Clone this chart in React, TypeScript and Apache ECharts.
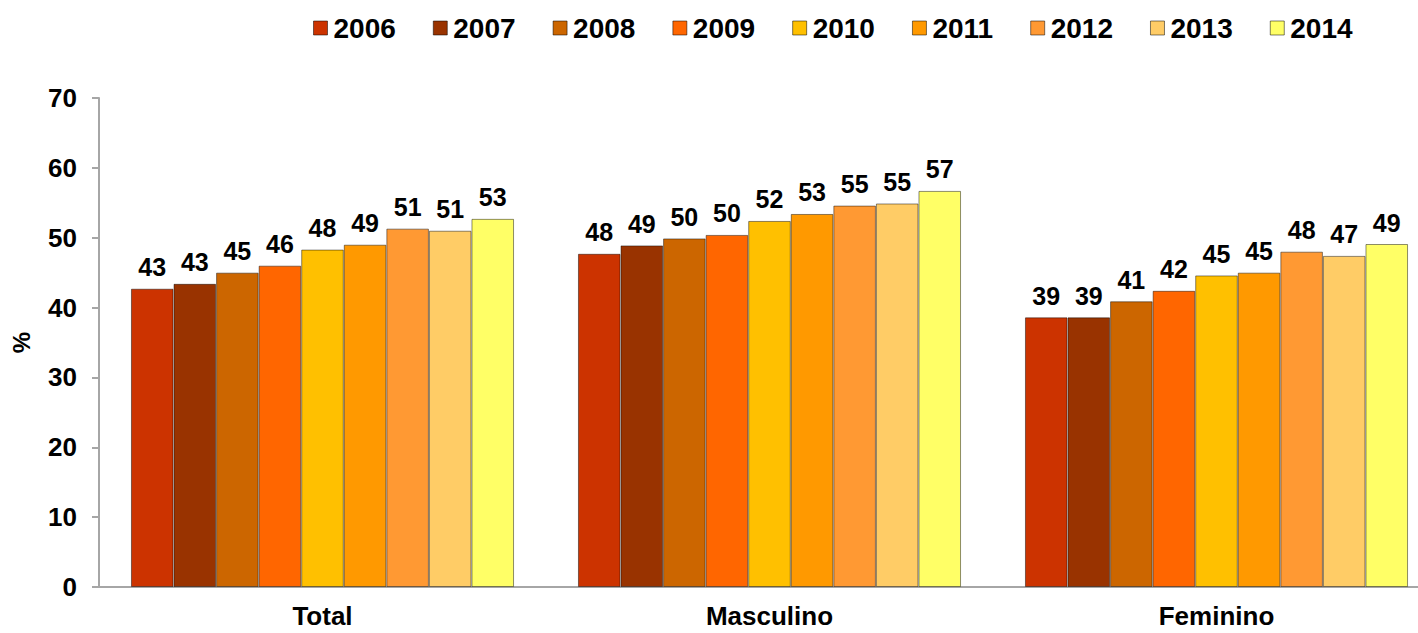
import React, { useEffect, useRef } from "react";
import * as echarts from "echarts";

const categories = ["Total", "Masculino", "Feminino"];
const years = ["2006", "2007", "2008", "2009", "2010", "2011", "2012", "2013", "2014"];
const colors = ["#CC3300", "#993300", "#CC6600", "#FF6600", "#FFC000", "#FF9900", "#FF9933", "#FFCC66", "#FFFF66"];

const v2006 = [42.7, 47.7, 38.6];
const v2007 = [43.4, 48.9, 38.6];
const v2008 = [45.0, 49.9, 40.9];
const v2009 = [46.0, 50.4, 42.4];
const v2010 = [48.3, 52.4, 44.6];
const v2011 = [49.0, 53.4, 45.0];
const v2012 = [51.3, 54.6, 48.0];
const v2013 = [51.0, 54.9, 47.4];
const v2014 = [52.7, 56.7, 49.1];
const seriesValues = [v2006, v2007, v2008, v2009, v2010, v2011, v2012, v2013, v2014];

const yTicks = { min: 0, max: 70, interval: 10 };

const FONT = "'Liberation Sans', Arial, sans-serif";

export default function App() {
  const ref = useRef<HTMLDivElement>(null);
  useEffect(() => {
    if (!ref.current) return;
    const chart = echarts.init(ref.current, undefined, { renderer: "svg" });
    chart.setOption({
      animation: false,
      backgroundColor: "#ffffff",
      legend: {
        top: 9,
        left: 308,
        itemWidth: 14,
        itemHeight: 14,
        itemGap: 37,
        icon: "rect",
        data: years,
        textStyle: {
          fontFamily: FONT,
          fontWeight: "bold",
          fontSize: 28,
          color: "#000",
          padding: [0, 0, 0, 1],
        },
        itemStyle: { borderColor: "rgba(0,0,0,0.5)", borderWidth: 1 },
      },
      grid: { left: 99, top: 98, bottom: 46, right: 0, containLabel: false },
      xAxis: {
        type: "category",
        data: categories,
        axisLine: { lineStyle: { color: "#A6A6A6", width: 2 } },
        axisTick: { show: false },
        axisLabel: {
          margin: 16,
          fontFamily: FONT,
          fontWeight: "bold",
          fontSize: 26,
          color: "#000",
        },
      },
      yAxis: {
        type: "value",
        min: yTicks.min,
        max: yTicks.max,
        interval: yTicks.interval,
        name: "%",
        nameLocation: "middle",
        nameRotate: 90,
        nameGap: 66,
        nameTextStyle: { fontFamily: FONT, fontWeight: "bold", fontSize: 24, color: "#000" },
        axisLine: { show: true, lineStyle: { color: "#A6A6A6", width: 2 } },
        axisTick: { show: true, length: 7, lineStyle: { color: "#A6A6A6", width: 2 } },
        splitLine: { show: false },
        axisLabel: {
          margin: 22,
          fontFamily: FONT,
          fontWeight: "bold",
          fontSize: 26,
          color: "#000",
        },
      },
      series: years.map((y, i) => ({
        name: y,
        type: "bar",
        data: seriesValues[i],
        barGap: "0%",
        barCategoryGap: "14.3%",
        itemStyle: { color: colors[i], borderColor: "rgba(0,0,0,0.45)", borderWidth: 1 },
        label: {
          show: true,
          position: "top",
          distance: 9,
          fontFamily: FONT,
          fontWeight: "bold",
          fontSize: 25,
          color: "#000",
          formatter: (p: any) => String(Math.round(p.value)),
        },
      })),
    });
    return () => chart.dispose();
  }, []);
  return (
    <div
      ref={ref}
      style={{ position: "fixed", left: 0, top: 0, width: 1440, height: 633 }}
    />
  );
}
